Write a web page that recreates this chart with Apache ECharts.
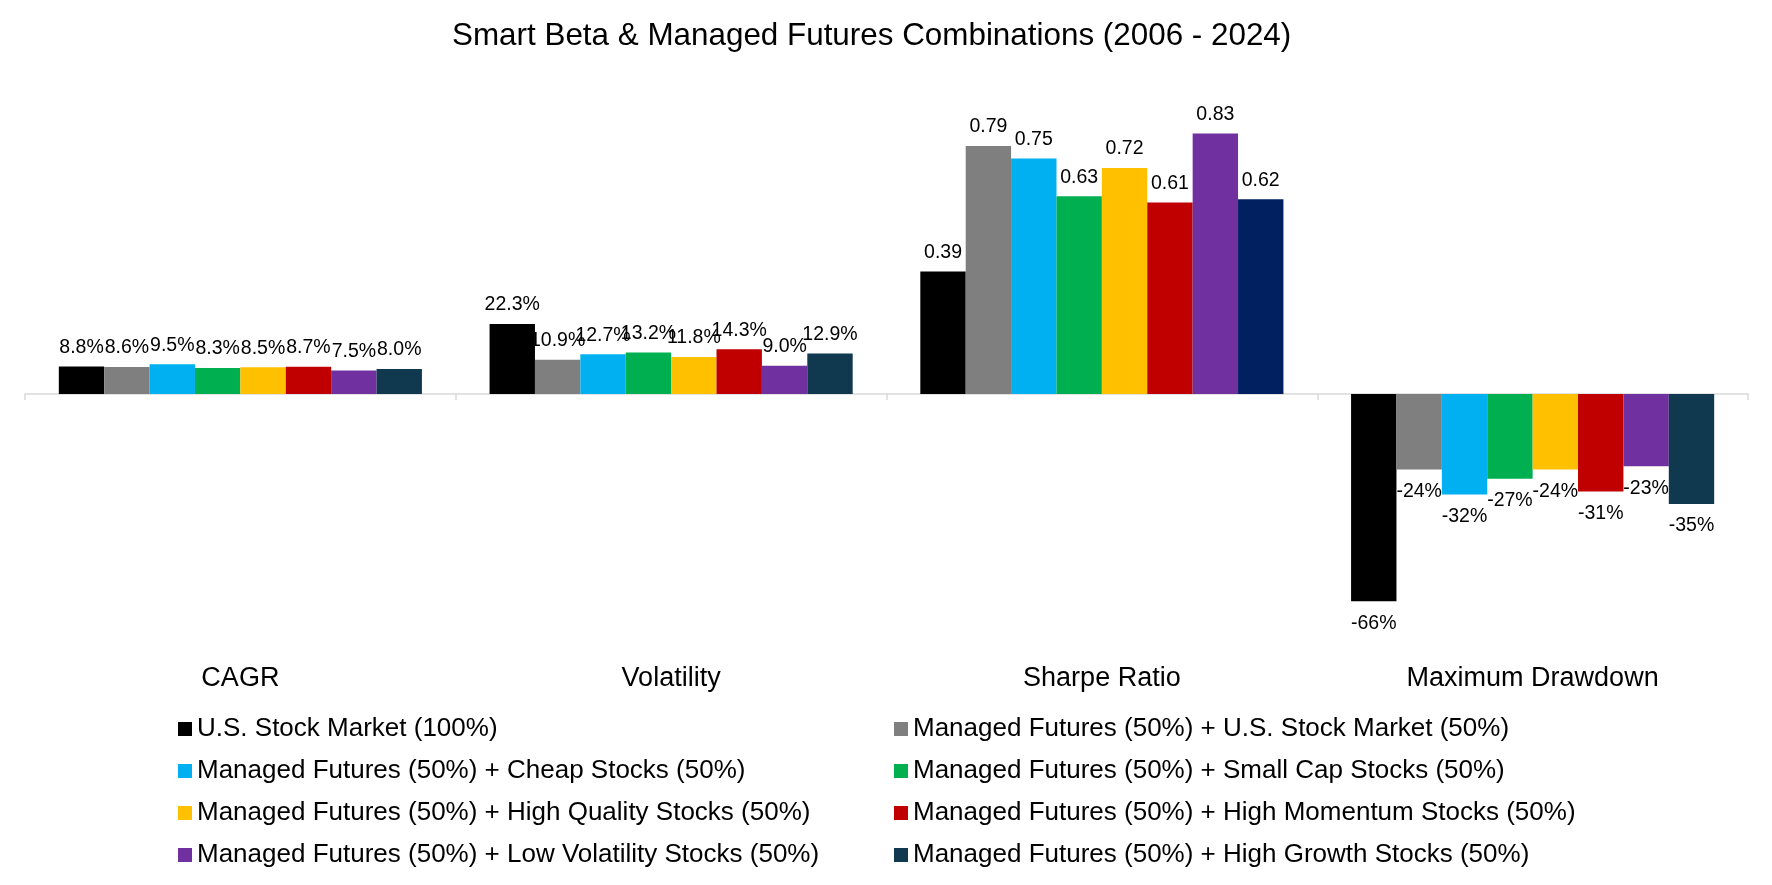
<!DOCTYPE html>
<html>
<head>
<meta charset="utf-8">
<script src="https://cdn.jsdelivr.net/npm/echarts@6/dist/echarts.min.js"></script>
<style>
html,body{margin:0;padding:0;background:#fff;}
#chart{width:1772px;height:885px;}
</style>
</head>
<body>
<div id="chart"></div>
<script>
const categories = ['CAGR', 'Volatility', 'Sharpe Ratio', 'Maximum Drawdown'];
const seriesNames = [
  'U.S. Stock Market (100%)',
  'Managed Futures (50%) + U.S. Stock Market (50%)',
  'Managed Futures (50%) + Cheap Stocks (50%)',
  'Managed Futures (50%) + Small Cap Stocks (50%)',
  'Managed Futures (50%) + High Quality Stocks (50%)',
  'Managed Futures (50%) + High Momentum Stocks (50%)',
  'Managed Futures (50%) + Low Volatility Stocks (50%)',
  'Managed Futures (50%) + High Growth Stocks (50%)'
];
const cagr = [8.8, 8.6, 9.5, 8.3, 8.5, 8.7, 7.5, 8.0];          // %
const volatility = [22.3, 10.9, 12.7, 13.2, 11.8, 14.3, 9.0, 12.9]; // %
const sharpe = [0.39, 0.79, 0.75, 0.63, 0.72, 0.61, 0.83, 0.62];
const maxDrawdown = [-66, -24, -32, -27, -24, -31, -23, -35];     // %

const colors = ['#000000', '#7F7F7F', '#00B0F0', '#00B050', '#FFC000', '#C00000', '#7030A0', '#10394F'];
const sharpeLastColor = '#002060';

const FONT = "'Liberation Sans', Arial, sans-serif";

function fmt(p) {
  const v = p.value;
  if (p.dataIndex === 2) return v.toFixed(2);
  if (p.dataIndex === 3) return Math.round(v * 100) + '%';
  return (v * 100).toFixed(1) + '%';
}

const series = seriesNames.map((name, i) => {
  const vals = [cagr[i] / 100, volatility[i] / 100, sharpe[i], maxDrawdown[i] / 100];
  const data = vals.map((v, j) => {
    const item = { value: v };
    if (v < 0) item.label = { position: 'bottom', distance: 12 };
    if (j === 2 && i === 7) item.itemStyle = { color: sharpeLastColor };
    return item;
  });
  return {
    name: name,
    type: 'bar',
    xAxisIndex: 0,
    data: data,
    barGap: '0%',
    barCategoryGap: '15.7%',
    itemStyle: { color: colors[i] },
    label: {
      show: true,
      position: 'top',
      distance: 9,
      formatter: fmt,
      fontSize: 19.5,
      fontFamily: FONT,
      color: '#000'
    },
    animation: false
  };
});

const chart = echarts.init(document.getElementById('chart'), null, { renderer: 'canvas' });
chart.setOption({
  backgroundColor: '#fff',
  animation: false,
  title: {
    text: 'Smart Beta & Managed Futures Combinations (2006 - 2024)',
    left: 447,
    top: 16,
    textStyle: { fontSize: 31.4, fontWeight: 'normal', fontFamily: FONT, color: '#000' }
  },
  legend: [
    {
      data: [seriesNames[0], seriesNames[2], seriesNames[4], seriesNames[6]],
      orient: 'vertical',
      left: 173,
      top: 709,
      icon: 'rect',
      itemWidth: 14,
      itemHeight: 14,
      itemGap: 12,
      textStyle: { fontSize: 26, fontFamily: FONT, color: '#000', lineHeight: 30 },
      selectedMode: false
    },
    {
      data: [seriesNames[1], seriesNames[3], seriesNames[5], seriesNames[7]],
      orient: 'vertical',
      left: 889,
      top: 709,
      icon: 'rect',
      itemWidth: 14,
      itemHeight: 14,
      itemGap: 12,
      textStyle: { fontSize: 26, fontFamily: FONT, color: '#000', lineHeight: 30 },
      selectedMode: false
    }
  ],
  grid: { left: 25, right: 24, top: 80, bottom: 224, containLabel: false, outerBoundsMode: 'none' },
  xAxis: [
    {
      type: 'category',
      data: categories,
      axisLine: { onZero: true, lineStyle: { color: '#D9D9D9', width: 1.5 } },
      axisTick: { show: true, length: 6, lineStyle: { color: '#D9D9D9', width: 1.5 } },
      axisLabel: { show: false }
    },
    {
      type: 'category',
      data: categories,
      position: 'bottom',
      axisLine: { show: false, onZero: false },
      axisTick: { show: false },
      axisLabel: { show: true, margin: 4, fontSize: 27, fontFamily: FONT, color: '#000' }
    }
  ],
  yAxis: {
    type: 'value',
    min: -0.85,
    max: 1,
    show: false,
    splitLine: { show: false }
  },
  series: series
});
</script>
</body>
</html>
